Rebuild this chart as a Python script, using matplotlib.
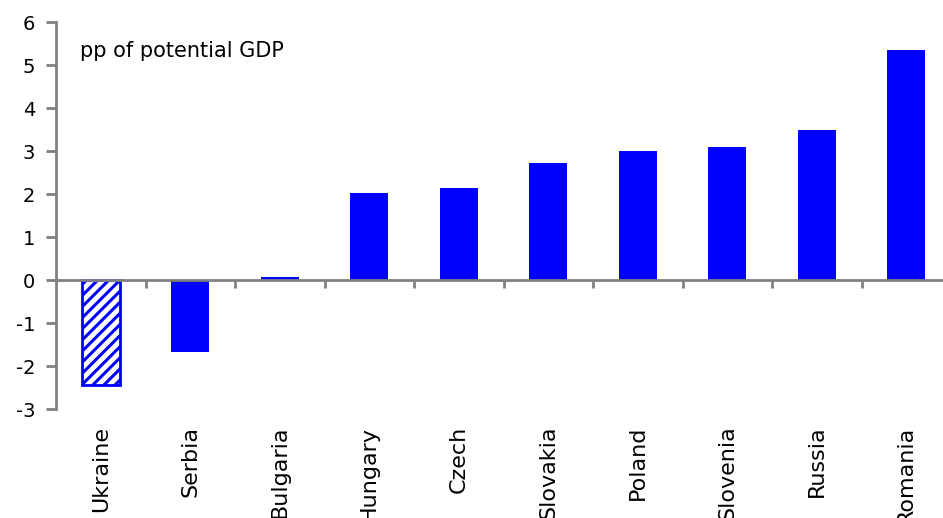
import matplotlib
matplotlib.use('Agg')
import matplotlib.pyplot as plt
import numpy as np

countries = ['Ukraine', 'Serbia', 'Bulgaria', 'Hungary', 'Czech',
             'Slovakia', 'Poland', 'Slovenia', 'Russia', 'Romania']
values = [-2.45, -1.68, 0.08, 2.02, 2.14, 2.73, 3.01, 3.10, 3.49, 5.35]
hatched = [True, False, False, False, False, False, False, False, False, False]

BLUE = '#0000FF'
GREY = '#808080'

plt.rcParams['hatch.linewidth'] = 2.2
plt.rcParams['hatch.color'] = BLUE
plt.rcParams['axes.unicode_minus'] = False

fig = plt.figure(figsize=(9.43, 5.18), dpi=100)
ax = fig.add_axes([0.0594, 0.2104, 0.9491, 0.7471])

x = np.arange(len(countries))
for xi, v, h in zip(x, values, hatched):
    if h:
        ax.bar(xi, v, 0.42, color='white', edgecolor=BLUE, lw=2, hatch='///')
    else:
        ax.bar(xi, v, 0.42, color=BLUE, edgecolor=BLUE, lw=0)

ax.set_xlim(-0.5, len(countries) - 0.5)
ax.set_ylim(-3, 6)
ax.set_yticks(range(-3, 7))

for s in ['top', 'right']:
    ax.spines[s].set_visible(False)
ax.spines['left'].set_color(GREY)
ax.spines['left'].set_linewidth(2)
ax.spines['bottom'].set_position(('data', 0))
ax.spines['bottom'].set_color(GREY)
ax.spines['bottom'].set_linewidth(2)

ax.tick_params(axis='y', direction='out', length=7, width=2, color=GREY,
               labelsize=14, pad=8)
ax.set_xticks(x + 0.5)
ax.set_xticklabels([])
ax.tick_params(axis='x', direction='out', length=6, width=2, color=GREY)

sec = ax.secondary_xaxis('bottom')
sec.set_xticks(x)
sec.set_xticklabels(countries, rotation=90, fontsize=16)
sec.tick_params(length=0, pad=12)
sec.spines['bottom'].set_visible(False)

ax.text(0.027, 0.925, 'pp of potential GDP', transform=ax.transAxes,
        fontsize=15, ha='left', va='center')

fig.savefig('out.png', dpi=100)
plt.close()
